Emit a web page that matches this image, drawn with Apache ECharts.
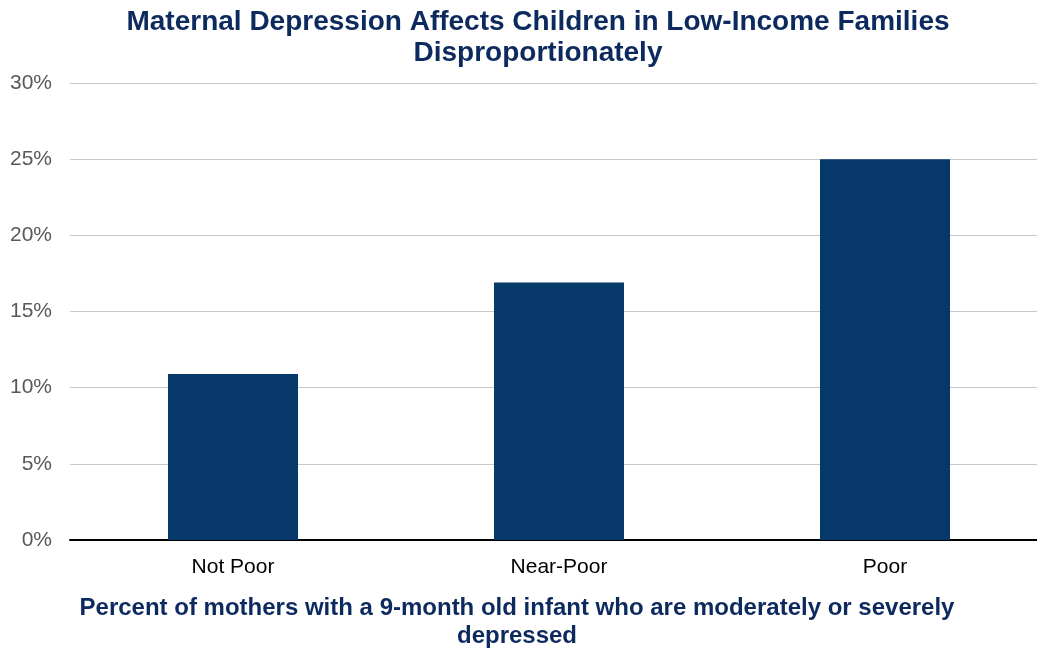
<!DOCTYPE html>
<html><head><meta charset="utf-8">
<script src="https://cdn.jsdelivr.net/npm/echarts@6/dist/echarts.min.js"></script>
<style>html,body{margin:0;padding:0;background:#fff}#c{width:1037px;height:649px}</style>
</head><body><div id="c"></div>
<script>
const categories = ["Not Poor", "Near-Poor", "Poor"];
const values = [10.9, 16.9, 25.0];
const yTicks = [0, 5, 10, 15, 20, 25, 30];

const chart = echarts.init(document.getElementById('c'));
chart.setOption({
  animation: false,
  title: [{
    text: "Maternal Depression Affects Children in Low-Income Families\nDisproportionately",
    left: 533, top: 2, textAlign: 'center',
    textStyle: {fontFamily: 'Liberation Sans', fontWeight: 'bold', fontSize: 28, color: '#0d2a5e', lineHeight: 31}
  }, {
    text: "Percent of mothers with a 9-month old infant who are moderately or severely\ndepressed",
    left: 512, top: 589, textAlign: 'center',
    textStyle: {fontFamily: 'Liberation Sans', fontWeight: 'bold', fontSize: 24, color: '#0d2a5e', lineHeight: 28}
  }],
  grid: {left: 70, width: 978, top: 83, bottom: 109, containLabel: false, outerBoundsMode: 'none'},
  xAxis: {
    type: 'category', data: categories,
    axisLine: {lineStyle: {color: '#000', width: 2}},
    axisTick: {show: false},
    axisLabel: {fontFamily: 'Liberation Sans', fontSize: 21, color: '#000', margin: 17}
  },
  yAxis: {
    type: 'value', min: yTicks[0], max: yTicks[yTicks.length-1], interval: 5,
    axisLine: {show: false}, axisTick: {show: false},
    splitLine: {lineStyle: {color: '#c8c8c8', width: 1}},
    axisLabel: {fontFamily: 'Liberation Sans', fontSize: 21, color: '#595959', margin: 18, formatter: v => v + '%'}
  },
  series: [{
    type: 'bar', data: values, barWidth: 130,
    itemStyle: {color: '#06386a'}
  }]
});
</script></body></html>
